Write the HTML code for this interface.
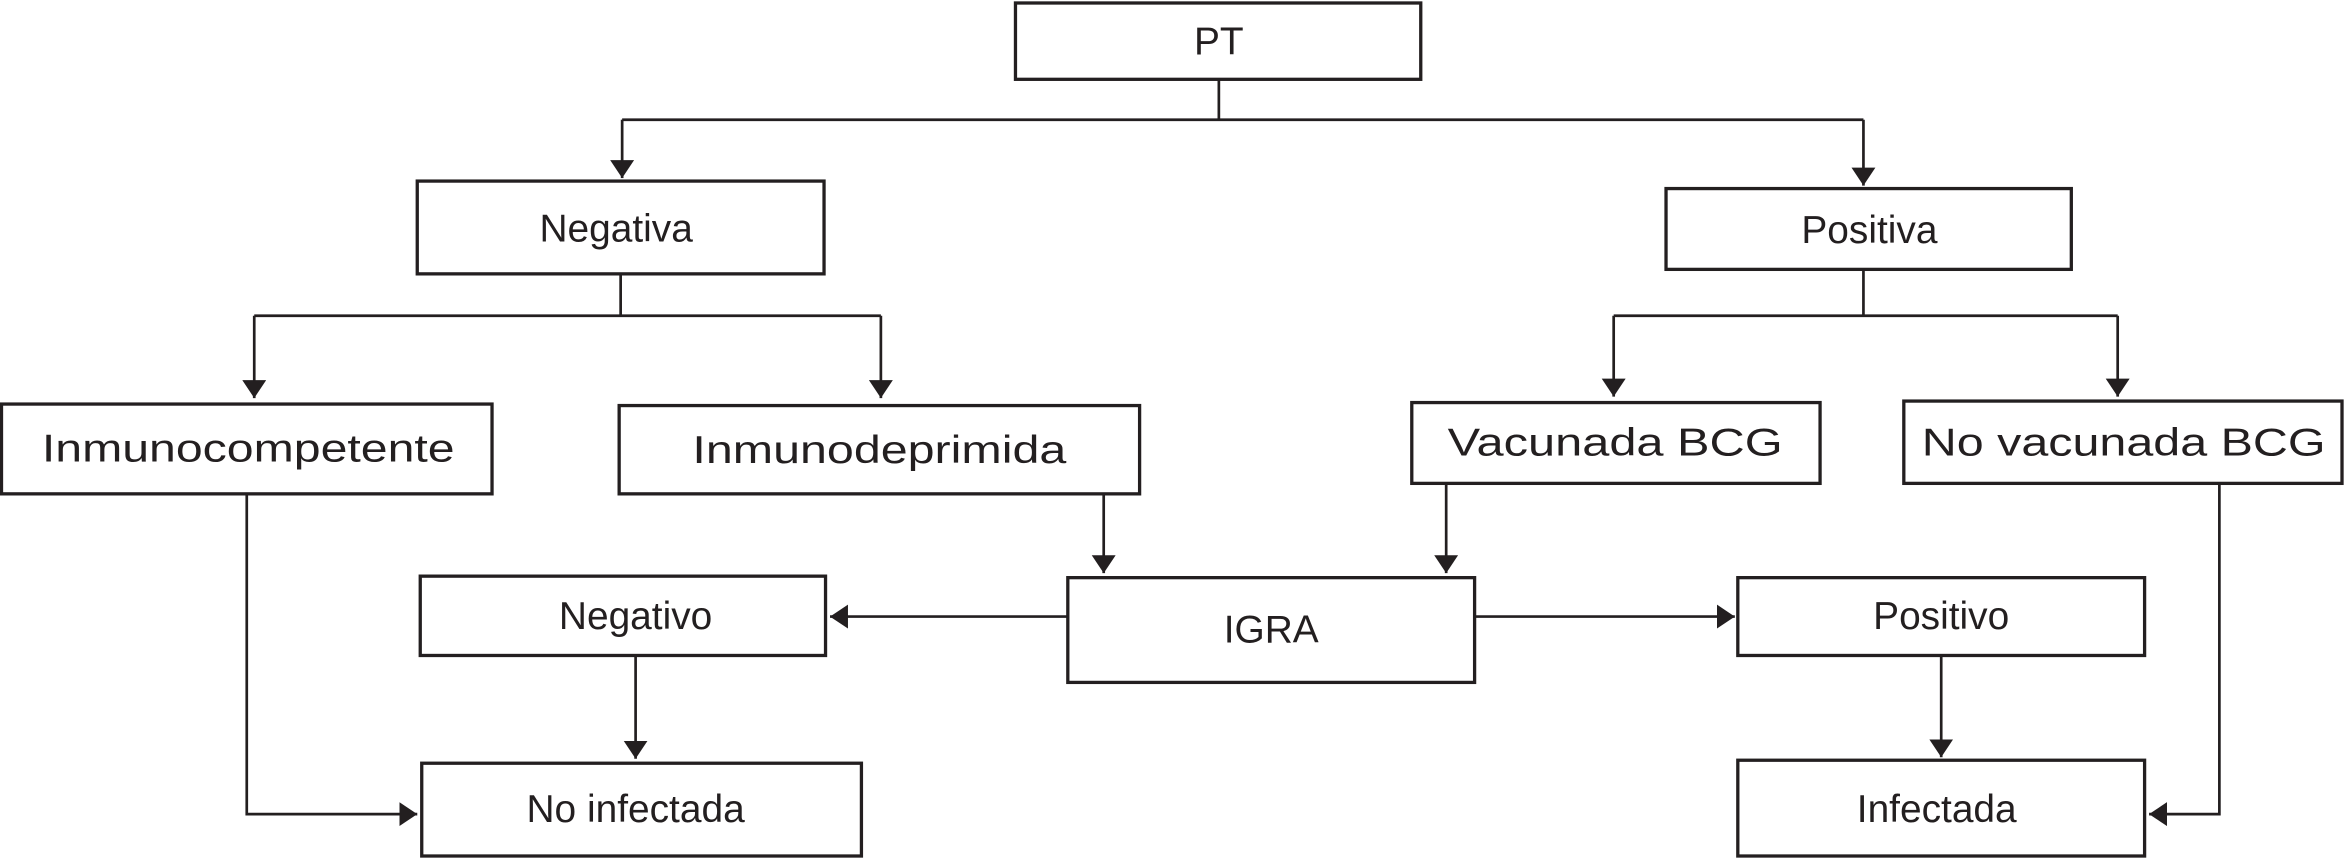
<!DOCTYPE html>
<html><head><meta charset="utf-8"><style>
html,body{margin:0;padding:0;background:#fff;}
svg{display:block;}
text{font-family:"Liberation Sans",sans-serif;font-size:26px;fill:#231f20;text-anchor:middle;dominant-baseline:central;}
</style></head><body>
<svg width="2345" height="859" viewBox="0 0 1568 574" preserveAspectRatio="none">
<defs><marker id="a" markerWidth="12" markerHeight="16" refX="12" refY="8" orient="auto" markerUnits="userSpaceOnUse"><path d="M0,0 L12,8 L0,16 z" fill="#231f20"/></marker></defs>
<g fill="none" stroke="#231f20" stroke-width="2.2">
<rect x="679" y="2" width="271" height="51"/>
<rect x="279" y="121" width="272" height="62"/>
<rect x="1114" y="126" width="271" height="54"/>
<rect x="1" y="270" width="328" height="60"/>
<rect x="414" y="271" width="348" height="59"/>
<rect x="944" y="269" width="273" height="54"/>
<rect x="1273" y="268" width="293" height="55"/>
<rect x="714" y="386" width="272" height="70"/>
<rect x="281" y="385" width="271" height="53"/>
<rect x="1162" y="386" width="272" height="52"/>
<rect x="282" y="510" width="294" height="62"/>
<rect x="1162" y="508" width="272" height="64"/>
</g>
<g fill="none" stroke="#231f20" stroke-width="1.8">
<path d="M815,53 V80 M416,80 H1246"/>
<path d="M416,80 V119" marker-end="url(#a)"/>
<path d="M1246,80 V124" marker-end="url(#a)"/>
<path d="M415,183 V211 M170,211 H589"/>
<path d="M170,211 V266" marker-end="url(#a)"/>
<path d="M589,211 V266" marker-end="url(#a)"/>
<path d="M1246,180 V211 M1079,211 H1416"/>
<path d="M1079,211 V265" marker-end="url(#a)"/>
<path d="M1416,211 V265" marker-end="url(#a)"/>
<path d="M738,330 V383" marker-end="url(#a)"/>
<path d="M967,323 V383" marker-end="url(#a)"/>
<path d="M714,412 H555" marker-end="url(#a)"/>
<path d="M986,412 H1160" marker-end="url(#a)"/>
<path d="M425,438 V507" marker-end="url(#a)"/>
<path d="M1298,438 V506" marker-end="url(#a)"/>
<path d="M165,330 V544 H279" marker-end="url(#a)"/>
<path d="M1484,323 V544 H1437" marker-end="url(#a)"/>
</g>
<text x="815" y="28">PT</text>
<text x="412" y="153">Negativa</text>
<text x="1250" y="154">Positiva</text>
<text x="166" y="300" textLength="276" lengthAdjust="spacingAndGlyphs">Inmunocompetente</text>
<text x="588" y="301" textLength="250" lengthAdjust="spacingAndGlyphs">Inmunodeprimida</text>
<text x="1080" y="296" textLength="224" lengthAdjust="spacingAndGlyphs">Vacunada BCG</text>
<text x="1420" y="296" textLength="270" lengthAdjust="spacingAndGlyphs">No vacunada BCG</text>
<text x="850" y="421">IGRA</text>
<text x="425" y="412">Negativo</text>
<text x="1298" y="412">Positivo</text>
<text x="425" y="541">No infectada</text>
<text x="1295" y="541">Infectada</text>
</svg>
</body></html>
